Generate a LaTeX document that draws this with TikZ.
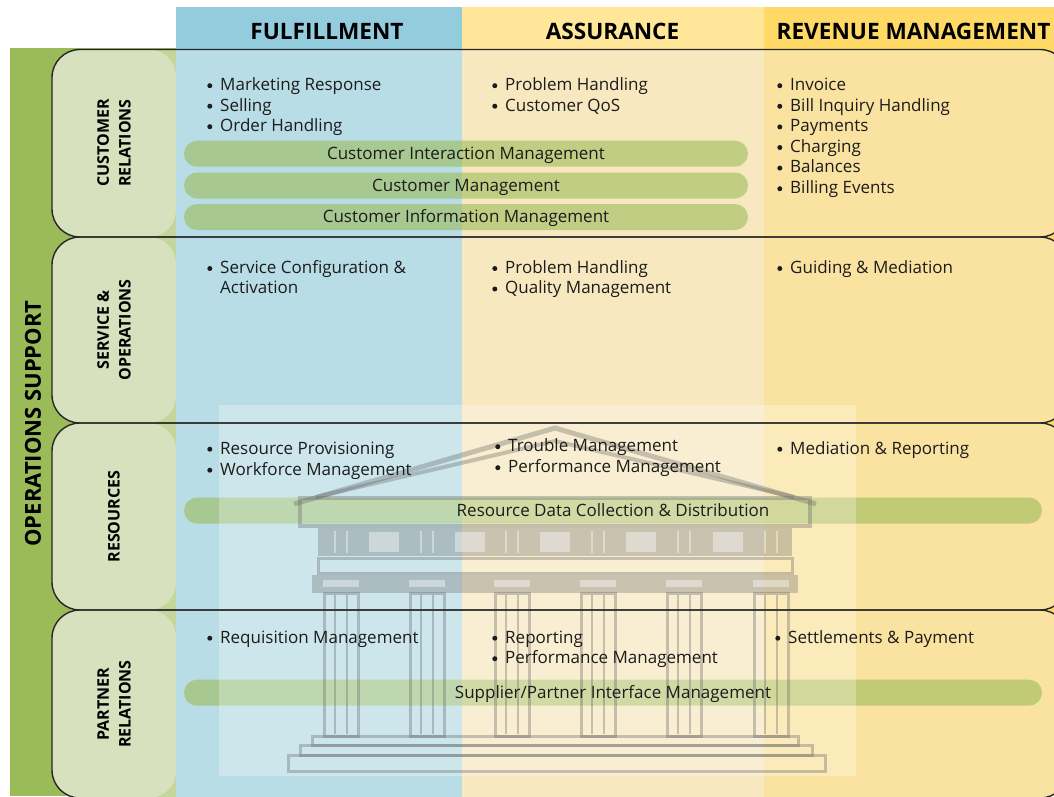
\documentclass[tikz,border=0pt]{standalone}
\usepackage{fontspec}
\setmainfont{Open Sans}
\definecolor{dgreen}{HTML}{9BBB59}
\definecolor{lgreen}{HTML}{C3D69B}
\definecolor{labelgreen}{HTML}{D7E1BE}
\definecolor{fulhead}{HTML}{93CDDD}
\definecolor{fulbody}{HTML}{B9DDE6}
\definecolor{asshead}{HTML}{FFE699}
\definecolor{assbody}{HTML}{F8E8C0}
\definecolor{revhead}{HTML}{FFD966}
\definecolor{revbody}{HTML}{FAE2A0}
\definecolor{ink}{HTML}{1C1C1C}
\definecolor{tgray}{HTML}{6A6A6A}
% bullet item: round bullet at x, text 13pt further right, baseline at y
\newcommand\bitem[4]{%
  \fill[ink] ({#2+2.8},{-#3+4.8}) circle (2.5pt);
  \node[txt] (#1) at ({#2+13},-#3) {#4};}
\begin{document}
\begin{tikzpicture}[x=1pt,y=1pt,
  txt/.style={anchor=base west, inner sep=0pt, font=\fontsize{17}{20.5}\selectfont, text=ink},
  hdr/.style={anchor=base, inner sep=0pt, font=\bfseries\fontsize{22.6}{28}\selectfont, text=black},
  lbl/.style={rotate=90, align=center, inner sep=0pt, font=\bfseries\fontsize{16}{21.7}\selectfont, text=black},
  pillbar/.style={fill=dgreen, fill opacity=0.6, rounded corners=13pt, minimum height=26pt, inner sep=0pt},
  pilltxt/.style={anchor=base, inner sep=0pt, font=\fontsize{17}{20.5}\selectfont, text=ink},
  tline/.style={draw=tgray, draw opacity=0.36, line width=3pt},
  tfill/.style={fill=tgray, fill opacity=0.33},
  tlight/.style={fill=white, fill opacity=0.4},
  rowline/.style={draw=black!85, line width=1.4pt, rounded corners=28pt}]
\useasboundingbox (0,0) rectangle (1054,-796);

% column bands and the left green bar
\fill[fulhead] (176,-7) rectangle (462,-796);
\fill[asshead] (462,-7) rectangle (764,-796);
\fill[revhead] (764,-7) rectangle (1054,-796);
\fill[dgreen] (10,-48) rectangle (176,-796);

% lighter fills inside the four layer rows
\begin{scope}
  \clip[rounded corners=28pt] (52,-49.5) rectangle (1068,-237)
        (52,-237) rectangle (1068,-423)
        (52,-423) rectangle (1068,-610)
        (52,-610) rectangle (1068,-798);
  \fill[lgreen] (40,-40) rectangle (176,-800);
  \fill[fulbody] (176,-40) rectangle (462,-800);
  \fill[assbody] (462,-40) rectangle (764,-800);
  \fill[revbody] (764,-40) rectangle (1070,-800);
\end{scope}

% row label boxes
\fill[labelgreen, rounded corners=27pt] (52,-49.5) rectangle (176,-237);
\fill[labelgreen, rounded corners=27pt] (52,-237) rectangle (176,-423);
\fill[labelgreen, rounded corners=27pt] (52,-423) rectangle (176,-610);
\fill[labelgreen, rounded corners=27pt] (52,-610) rectangle (176,-798);

% horizontal process bars
\node[pillbar, minimum width=564pt] (cim) at (466,-153.7) {};
\node[pillbar, minimum width=564pt] (cm) at (466,-185.5) {};
\node[pillbar, minimum width=564pt] (cinf) at (466,-217) {};
\node[pillbar, minimum width=858pt] (rdc) at (613,-510.5) {};
\node[pillbar, minimum width=858pt] (spim) at (613,-692.7) {};

% temple emblem behind the lower rows
\fill[white, opacity=0.28] (219,-405) rectangle (856,-776);
\draw[tline, line width=5pt, line join=miter] (294,-504) -- (555,-428) -- (816,-504);
\draw[tline, line width=4pt] (316,-497) -- (555,-441) -- (794,-497);
\draw[tline, line width=4pt] (300,-498) rectangle (810,-526);
\fill[tfill] (318,-528) rectangle (792,-556);
\foreach \m in {384,469.5,555,641,727.5}
  \fill[tlight] (\m-15,-532) rectangle (\m+15,-552);
\draw[tline] (318,-558) rectangle (792,-573);
\fill[tfill] (312,-575) rectangle (798,-593);
\foreach \c in {341,427,512,598,684,771} {
  \draw[white, opacity=0.4, line width=2pt] (\c-6,-531) -- (\c-6,-553) (\c+6,-531) -- (\c+6,-553);
  \fill[tlight] (\c-18,-580) rectangle (\c+18,-587);
  \draw[tline] (\c-17,-593) rectangle (\c+17,-736);
  \draw[tline, line width=2.5pt] (\c-6,-595) -- (\c-6,-734) (\c+6,-595) -- (\c+6,-734);
}
\draw[tline] (312,-736) rectangle (798,-745);
\draw[tline] (300,-745) rectangle (812,-755);
\draw[tline] (288,-755) rectangle (825,-771);

% row outlines
\draw[rowline] (52,-49.5) rectangle (1068,-237);
\draw[rowline] (52,-237) rectangle (1068,-423);
\draw[rowline] (52,-423) rectangle (1068,-610);
\draw[rowline] (52,-610) rectangle (1068,-798);

% column headings
\node[hdr] (hful) at (327,-39) {FULFILLMENT};
\node[hdr] (hass) at (612.5,-39) {ASSURANCE};
\node[hdr] (hrev) at (913.5,-39) {REVENUE MANAGEMENT};

% row headings
\node[lbl, font=\bfseries\fontsize{22}{26}\selectfont] (ops) at (33,-423.5) {OPERATIONS SUPPORT};
\node[lbl] (lcr) at (114,-143) {CUSTOMER\\RELATIONS};
\node[lbl] (lso) at (114,-330) {SERVICE \&\\OPERATIONS};
\node[lbl] (lre) at (114,-516.5) {RESOURCES};
\node[lbl] (lpr) at (114,-704) {PARTNER\\RELATIONS};

% bar labels
\node[pilltxt] (cimt) at ([yshift=-5.5pt]cim.center) {Customer Interaction Management};
\node[pilltxt] (cmt) at ([yshift=-5.5pt]cm.center) {Customer Management};
\node[pilltxt] (cinft) at ([yshift=-5.5pt]cinf.center) {Customer Information Management};
\node[pilltxt] (rdct) at ([yshift=-5.5pt]rdc.center) {Resource Data Collection \& Distribution};
\node[pilltxt] (spimt) at ([yshift=-5.5pt]spim.center) {Supplier/Partner Interface Management};

% customer relations
\bitem{f11}{207}{90.5}{Marketing Response}
\bitem{f12}{207}{111}{Selling}
\bitem{f13}{207}{131.5}{Order Handling}
\bitem{a11}{492}{90.5}{Problem Handling}
\bitem{a12}{492}{111}{Customer QoS}
\bitem{r11}{777}{90.5}{Invoice}
\bitem{r12}{777}{111.1}{Bill Inquiry Handling}
\bitem{r13}{777}{131.7}{Payments}
\bitem{r14}{777}{152.3}{Charging}
\bitem{r15}{777}{172.9}{Balances}
\bitem{r16}{777}{193.5}{Billing Events}

% service & operations
\bitem{f21}{207}{273.3}{Service Configuration \&}
\node[txt] (f22) at (220,-293.8) {Activation};
\bitem{a21}{492}{273.3}{Problem Handling}
\bitem{a22}{492}{293.8}{Quality Management}
\bitem{r21}{777}{273.3}{Guiding \& Mediation}

% resources
\bitem{f31}{207}{454}{Resource Provisioning}
\bitem{f32}{207}{475}{Workforce Management}
\bitem{a31}{495}{451.5}{Trouble Management}
\bitem{a32}{495}{472.5}{Performance Management}
\bitem{r31}{777}{454}{Mediation \& Reporting}

% partner relations
\bitem{f41}{207}{643}{Requisition Management}
\bitem{a41}{492}{643}{Reporting}
\bitem{a42}{492}{663.5}{Performance Management}
\bitem{r41}{775}{643}{Settlements \& Payment}
\end{tikzpicture}
\end{document}
